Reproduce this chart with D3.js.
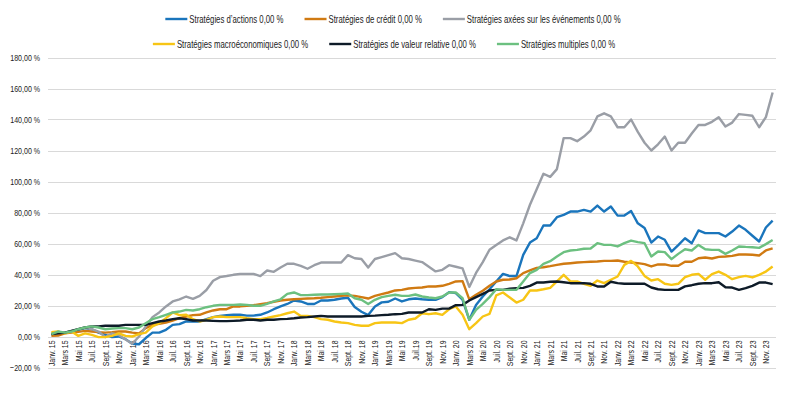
<!DOCTYPE html>
<html><head><meta charset="utf-8">
<script src="https://cdn.jsdelivr.net/npm/d3@7"></script>
<style>
body{margin:0;background:#fff;}
text{font-family:"Liberation Sans","Roboto",sans-serif;fill:#222;}
</style></head><body>
<svg id="chart" width="800" height="406"></svg>
<script>
const monthNames = ["Janv.","Févr.","Mars","Avr.","Mai","Juin","Juil.","Août","Sept.","Oct.","Nov.","Déc."];
const years = [15,16,17,18,19,20,21,22,23];
const yTicks = [-20,0,20,40,60,80,100,120,140,160,180];
const seriesNames = ["Stratégies d’actions 0,00 %","Stratégies de crédit 0,00 %","Stratégies axées sur les événements 0,00 %","Stratégies macroéconomiques 0,00 %","Stratégies de valeur relative 0,00 %","Stratégies multiples 0,00 %"];
const seriesColors = ["#1a75bc","#d07a12","#9a9ea6","#f7c515","#0e1b28","#6cc080"];

const actions = [1.5,2,2.5,3.2,4.3,5.4,4.7,2.5,1,-0.4,0,-1.7,
-4.7,-5,-1,2.5,2.5,4.3,7.5,8,9.7,9.7,9.7,11.2,
12.5,13.3,13.8,14,14,13.5,13.5,14,15.5,17.6,19.4,21,
23.2,22.6,21,21,23.2,23.2,23.7,24.5,25,19,16,13.8,
19.4,22,22.4,24.5,22.6,24,24.5,24,23.7,23.7,25.4,28.6,
28,23.7,10.8,20.4,25.8,30.5,35.5,40.4,39,39,52.7,60.6,
63.4,71.6,71.6,77,78.5,80.6,80.6,81.7,80.6,84.5,80.6,83.9,
78,78,81,73,70,60.6,64.5,62.4,54.8,59,63.4,60.2,
68.4,66.7,66.7,66.7,64.5,67.7,71.6,68.8,65,61.3,70.3,74.8];
const credit = [0.4,0.6,2,2.5,3,3.6,3.2,2.8,2.5,2.8,3.2,3.2,
2.5,2,5.4,7.5,8.2,9,10.3,11.8,12.9,13.8,14,15.5,
16.8,17.6,17.6,19.4,19.4,19.8,20.2,20.9,21.5,22.4,23.2,23.7,
24,24.3,24.5,24.7,25,25.4,25.8,26.2,26.5,26.2,25.4,24.5,
26.2,27.3,28.4,29.7,30.1,31,31.4,31.6,32.3,32.3,32.7,34,
35.5,35.7,24,26.9,29.5,32.7,35.5,36.6,36.8,37.6,40.9,42.6,
44.3,44.7,45.4,46.2,46.9,47.3,47.7,48,48.2,48.4,48.8,48.8,
49,48.2,47.7,47.3,46.7,45.2,46.5,46.5,45.6,45.6,48.2,48.2,
50.5,51,50.3,51.4,51.6,52,52.9,52.9,52.7,52.3,55.5,56.8];
const events = [2,3,2.5,3.6,4.7,5.8,4.7,3.2,-0.4,2,1,-2,
-4.7,0,6.5,12.5,15.5,19.4,22.6,24,25.8,24.3,26.2,30,
36,38.3,39,39.8,40.4,40.4,40.4,39,42.6,41.7,44.5,46.9,
46.9,45.6,43.7,46,47.7,47.7,47.7,47.7,52.5,50.5,50,44.5,
50,51.2,52.5,53.8,50.5,50,49,48,45,42,43,46,
45,44,32,41,48,56,59,62,64,62,73,85,
95,105,103,108,128,128,126,129,133,142,144,142,
135,135,140,132,125,120,124,129,120,125,125,131,
136.5,136.5,138.5,141.5,135.5,138,143.5,143,142.4,135,141.5,157.4];
const macro = [2.8,3.2,2,3.2,0.4,2,1,-0.4,-0.4,0.4,2,0.4,
0,1.5,2.5,6.5,8.6,11.8,15.5,13.8,14,11.2,9.7,10.8,
12.5,12.9,12.5,12.5,12.5,11.8,11.2,11.2,12,12.9,13.8,15,
16.1,13.3,13.3,12.5,11.2,10.8,9.7,9,8.6,7.5,6.9,6.9,
8.6,9,9,9,8.6,10.8,11.6,15,14.4,15,14,17.6,
19.4,14,4.7,8.6,12.9,14.6,26.5,28.4,25.2,21.9,23.7,29.7,
29.7,30.5,31.4,35.5,39.8,35.5,35.5,34,32.7,36.1,34.4,36.6,
38.7,46.2,48.8,45.2,39.1,36.1,37,34,33.3,34,38.3,39.8,
40.4,36.6,40.2,41.9,39.8,37,38.3,39.1,38.1,39.8,41.9,45.2];
const relative = [1.5,2,2.5,3.6,4.7,5.8,6.5,6.5,6.9,6.9,6.9,7.5,
7.5,7.5,7.5,8.6,9.7,10.3,11.2,11.8,11.2,10.3,10.3,10.3,
10.1,9.9,9.9,10.1,10.3,10.8,10.8,10.3,10.8,10.8,11.2,11.4,
11.8,12.3,12.5,12.9,13.3,12.9,12.9,12.9,12.9,12.9,12.9,13.3,
13.5,13.8,14,14.4,14.6,15.5,15.5,15.5,17.6,17.2,18,18,
20.2,20.4,23.2,25.4,27.5,29.7,30.1,30.1,30.8,31.2,31.4,32.7,
34.8,34.8,35.3,35.5,35,34.4,34.4,34.4,34,32.3,32.3,35.3,
34.4,34,34,34,34,31.6,30.5,30.1,30.1,30.1,32.3,33.1,
34,34.4,34.4,35,31.8,31.6,30.1,31.2,32.7,34.8,34.8,33.8];
const multiples = [1.5,3.2,2.5,3.2,4.7,5.8,6.5,5.8,4.7,5.2,5.4,5.4,
4.7,5.8,8.6,11.2,12.5,14,15.5,16.1,17.2,16.8,17.6,18.9,
19.8,20.4,20.4,20.4,20.6,20.4,19.8,19.8,21,22.6,24,27.5,
28.4,26.7,26.7,26.9,27.1,27.1,27.3,27.5,27.7,24.7,23.7,21,
23.7,25.4,26.2,26.9,26.2,26.2,27.1,25.8,25.2,24.7,25.8,28.4,
28.4,24.7,10.8,17.2,21,25.4,30.5,30.1,30.1,30.1,35.5,40.9,
43,46.9,48.6,51.6,54.4,55.5,55.9,56.6,56.8,60.2,59.1,59.1,
58.1,60.2,61.9,60.9,60.2,51.6,54.8,54.4,49.9,53.3,56.3,55.5,
59.1,56.3,55.9,55.9,53.3,55.5,58.1,57.8,57.6,57.2,59.6,62.2];

const seriesValues = [actions, credit, events, macro, relative, multiples];

const categories = [];
years.forEach(y => monthNames.forEach((m, mi) => categories.push({key: m + " " + y, m: mi, y})));
function tickLabel(c){
  if (c.m === 6 && c.y === 19) return "Juil.19";
  return monthNames[c.m] + " " + c.y;
}

const SX = 0.72; // horizontal condensing to mimic a condensed typeface
const svg = d3.select("#chart");
const margin = {left: 48, right: 24};
const W = 800;
const x = d3.scaleBand().domain(categories.map(c => c.key)).range([margin.left, W - margin.right]).padding(0);
const y = d3.scaleLinear().domain([-20, 180]).range([367.5, 57.5]);

svg.append("g").selectAll("line").data(yTicks).join("line")
  .attr("x1", margin.left).attr("x2", W - margin.right)
  .attr("y1", d => Math.round(y(d)) + 0.5).attr("y2", d => Math.round(y(d)) + 0.5)
  .attr("stroke", "#d9d9d9").attr("stroke-width", 1);

const yAxis = d3.axisLeft(y).tickValues(yTicks).tickSize(0).tickPadding(8)
  .tickFormat(d => d3.format(".2f")(d).replace(".", ",") + " %");
const gy = svg.append("g").attr("transform", `translate(${margin.left},0)`).call(yAxis);
gy.select(".domain").remove();
gy.selectAll("text").attr("font-size", 9.8).attr("fill", "#222")
  .attr("x", -8 / SX).attr("transform", `scale(${SX},1)`)
  .style("font-family", '"Liberation Sans",sans-serif');

const xAxis = d3.axisBottom(x).tickValues(categories.filter(c => c.m % 2 === 0).map(c => c.key))
  .tickSize(0).tickPadding(0).tickFormat(k => tickLabel(categories.find(c => c.key === k)));
const gx = svg.append("g").attr("transform", `translate(0,${y(0)})`).call(xAxis);
gx.select(".domain").remove();
gx.selectAll("text").attr("font-size", 9.6).attr("fill", "#222")
  .attr("transform", `rotate(-90) scale(${SX},1)`).attr("text-anchor", "end")
  .attr("x", -4 / SX).attr("y", 0).attr("dy", "0.35em")
  .style("font-family", '"Liberation Sans",sans-serif');

const line = d3.line().x((d, i) => x(categories[i].key) + x.bandwidth() / 2).y(d => y(d));
svg.append("g").selectAll("path").data(seriesValues).join("path")
  .attr("d", d => line(d)).attr("fill", "none")
  .attr("stroke", (d, i) => seriesColors[i]).attr("stroke-width", 2.4)
  .attr("stroke-linejoin", "round");

const legend = svg.append("g");
const rows = [[0,1,2],[3,4,5]];
const rowY = [19, 44];
const rowCenter = [393, 384];
rows.forEach((row, ri) => {
  const g = legend.append("g");
  let cx = 0;
  row.forEach(si => {
    const item = g.append("g").attr("transform", `translate(${cx},0)`);
    item.append("line").attr("x1", 0).attr("x2", 22).attr("y1", 0).attr("y2", 0)
      .attr("stroke", seriesColors[si]).attr("stroke-width", 2.4);
    const t = item.append("text").attr("transform", `translate(24,0) scale(${SX},1)`)
      .attr("dy", "0.35em").attr("font-size", 10.8).text(seriesNames[si]);
    cx += 24 + t.node().getComputedTextLength() * SX + 21;
  });
  const total = cx - 21;
  g.attr("transform", `translate(${rowCenter[ri] - total / 2},${rowY[ri]})`);
});
</script>
</body></html>
